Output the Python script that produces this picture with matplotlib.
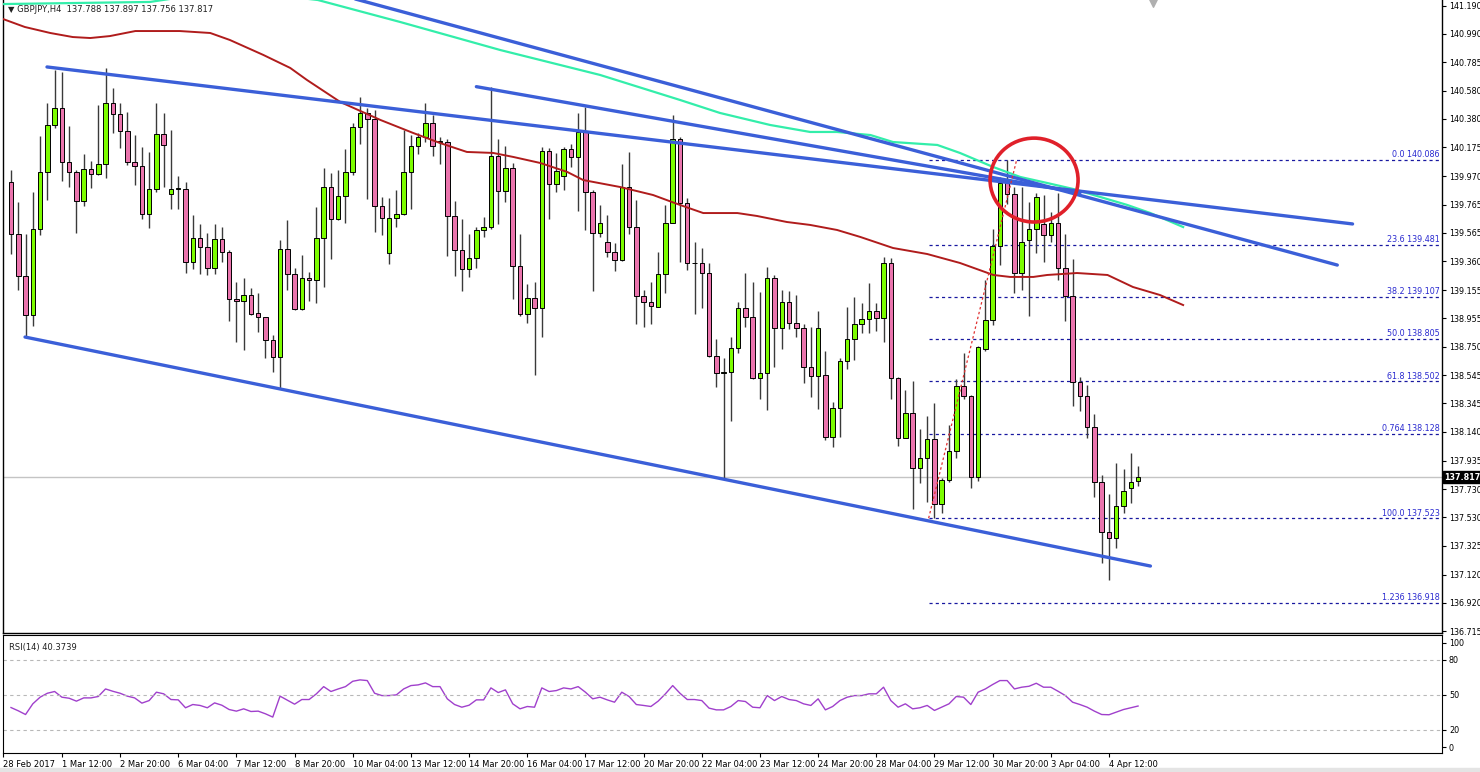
#!/usr/bin/env python3
"""GBPJPY H4 candlestick chart with channel lines, fib levels and RSI(14)."""
import matplotlib
matplotlib.use("Agg")
import matplotlib.pyplot as plt
from matplotlib.patches import Ellipse
from matplotlib.transforms import blended_transform_factory

# ---- candles (bar index = position on chart) ----
opens = [139.930, 139.554, 139.258, 138.977, 139.592, 139.998, 140.336, 140.460, 140.073, 140.002,
         139.792, 140.019, 139.983, 140.055, 140.495, 140.412, 140.293, 140.069, 140.040, 139.699,
         139.878, 140.274, 139.840, 139.878, 139.878, 139.358, 139.525, 139.461, 139.311, 139.520,
         139.425, 139.089, 139.077, 139.120, 138.990, 138.960, 138.798, 138.679, 139.447, 139.268,
         139.018, 139.239, 139.225, 139.525, 139.890, 139.661, 139.830, 140.002, 140.324, 140.420,
         140.377, 139.759, 139.418, 139.669, 139.699, 140.002, 140.186, 140.248, 140.348, 140.215,
         140.215, 139.685, 139.442, 139.304, 139.382, 139.585, 139.604, 140.114, 139.866, 140.026,
         139.329, 138.984, 139.096, 139.025, 140.152, 139.914, 139.971, 140.162, 140.105, 140.288,
         139.859, 139.566, 139.501, 139.430, 139.370, 139.890, 139.608, 139.115, 139.070, 139.036,
         139.270, 139.637, 140.234, 139.780, 139.347, 139.351, 139.279, 138.684, 138.564, 138.571,
         138.739, 139.025, 138.960, 138.524, 138.560, 139.239, 138.882, 139.072, 138.922, 138.882,
         138.603, 138.541, 138.548, 138.102, 138.309, 138.650, 138.803, 138.912, 138.946, 139.008,
         138.953, 139.351, 138.524, 138.099, 138.278, 137.880, 137.952, 138.088, 137.625, 137.797,
         138.006, 138.469, 138.397, 137.816, 138.731, 138.941, 139.470, 139.919, 139.842, 139.275,
         139.513, 139.590, 139.628, 139.549, 139.633, 139.311, 139.113, 138.500, 138.397, 138.174,
         137.784, 137.427, 137.380, 137.611, 137.737, 137.788]
highs = [140.014, 139.783, 139.554, 139.859, 140.257, 140.491, 140.729, 140.713, 140.329, 140.014,
         140.126, 140.078, 140.479, 140.741, 140.598, 140.491, 140.431, 140.264, 140.176, 140.141,
         140.495, 140.420, 140.300, 139.971, 139.926, 139.692, 139.626, 139.561, 139.626, 139.608,
         139.442, 139.215, 139.239, 139.172, 139.132, 138.965, 138.834, 139.513, 139.656, 139.311,
         139.406, 139.287, 139.751, 140.026, 139.995, 140.014, 140.162, 140.348, 140.538, 140.455,
         140.443, 139.819, 139.812, 139.871, 140.300, 140.264, 140.277, 140.491, 140.407, 140.252,
         140.234, 139.794, 139.661, 139.556, 139.608, 139.680, 140.610, 140.234, 140.186, 140.062,
         139.556, 139.199, 139.215, 140.181, 140.169, 140.133, 140.181, 140.200, 140.420, 140.467,
         139.871, 139.764, 139.692, 139.490, 140.055, 140.145, 139.799, 139.156, 139.215, 139.430,
         139.764, 140.407, 140.248, 139.812, 139.501, 139.454, 139.347, 138.803, 138.667, 138.817,
         139.072, 139.279, 139.215, 139.144, 139.318, 139.263, 139.156, 139.151, 139.120, 138.912,
         138.893, 139.008, 138.721, 138.357, 138.667, 139.032, 139.103, 139.065, 139.208, 139.061,
         139.390, 139.382, 138.536, 138.440, 138.507, 138.159, 138.254, 138.345, 137.809, 138.190,
         138.517, 138.707, 138.405, 138.755, 139.227, 139.590, 139.966, 140.086, 139.895, 139.895,
         139.787, 139.847, 139.835, 139.716, 139.847, 139.554, 139.375, 138.536, 138.476, 138.269,
         137.832, 137.697, 137.920, 137.873, 137.992, 137.897]
lows = [139.413, 139.156, 138.822, 138.900, 139.549, 139.799, 140.312, 139.935, 139.895, 139.561,
        139.759, 139.883, 139.978, 139.955, 140.277, 140.169, 140.050, 139.907, 139.661, 139.597,
        139.859, 139.895, 139.735, 139.735, 139.275, 139.304, 139.272, 139.263, 139.268, 139.358,
        138.936, 138.782, 138.726, 138.977, 138.853, 138.667, 138.571, 138.455, 139.156, 139.013,
        139.013, 139.079, 139.065, 139.175, 139.377, 139.655, 139.637, 139.978, 140.198, 139.804,
        139.573, 139.549, 139.342, 139.608, 139.692, 139.733, 140.129, 140.216, 140.114, 140.057,
        139.399, 139.256, 139.151, 139.251, 139.315, 139.537, 139.590, 139.628, 139.787, 139.089,
        138.970, 138.922, 138.548, 138.817, 139.661, 139.859, 139.871, 140.033, 139.723, 139.585,
        139.151, 139.537, 139.394, 139.294, 139.365, 139.556, 138.912, 138.889, 138.912, 139.036,
        139.132, 139.637, 139.358, 139.299, 138.984, 139.025, 138.679, 138.460, 137.809, 138.221,
        138.707, 138.893, 138.517, 138.374, 138.297, 138.607, 138.731, 138.875, 138.817, 138.493,
        138.388, 138.302, 138.083, 138.035, 138.102, 138.588, 138.655, 138.846, 138.846, 138.865,
        138.786, 138.374, 138.040, 138.095, 137.587, 137.773, 137.641, 137.523, 137.563, 137.784,
        137.952, 138.374, 137.737, 137.792, 138.721, 138.905, 139.335, 139.771, 139.136, 139.156,
        138.970, 139.418, 139.358, 139.501, 139.227, 138.936, 138.326, 138.292, 138.099, 137.677,
        137.205, 137.081, 137.308, 137.563, 137.630, 137.756]
closes = [139.554, 139.258, 138.977, 139.592, 139.998, 140.336, 140.460, 140.073, 140.002, 139.792,
          140.019, 139.983, 140.055, 140.495, 140.412, 140.293, 140.069, 140.040, 139.699, 139.878,
          140.274, 140.193, 139.878, 139.878, 139.358, 139.525, 139.461, 139.311, 139.520, 139.425,
          139.089, 139.077, 139.120, 138.984, 138.960, 138.798, 138.679, 139.447, 139.268, 139.018,
          139.239, 139.225, 139.525, 139.890, 139.661, 139.830, 140.002, 140.324, 140.420, 140.377,
          139.759, 139.669, 139.669, 139.699, 140.002, 140.186, 140.248, 140.348, 140.186, 140.215,
          139.685, 139.442, 139.304, 139.382, 139.585, 139.604, 140.114, 139.866, 140.026, 139.329,
          138.984, 139.096, 139.025, 140.152, 139.914, 140.009, 140.162, 140.105, 140.288, 139.859,
          139.566, 139.633, 139.430, 139.370, 139.890, 139.608, 139.115, 139.070, 139.041, 139.270,
          139.637, 140.234, 139.780, 139.347, 139.351, 139.279, 138.684, 138.564, 138.571, 138.739,
          139.025, 138.960, 138.524, 138.560, 139.239, 138.882, 139.072, 138.922, 138.882, 138.603,
          138.541, 138.882, 138.102, 138.309, 138.650, 138.803, 138.912, 138.946, 139.008, 138.953,
          139.351, 138.524, 138.099, 138.278, 137.880, 137.952, 138.088, 137.625, 137.797, 138.006,
          138.469, 138.397, 137.816, 138.746, 138.941, 139.470, 139.919, 139.842, 139.275, 139.501,
          139.590, 139.819, 139.549, 139.633, 139.311, 139.113, 138.500, 138.397, 138.174, 137.784,
          137.427, 137.380, 137.611, 137.718, 137.784, 137.817]

rsi = [39.1, 36.3, 33.1, 42.3, 48.0, 51.4, 52.9, 48.0, 47.1, 44.6,
       47.4, 47.4, 48.6, 55.1, 53.1, 51.4, 48.9, 47.4, 42.9, 45.1,
       52.3, 50.9, 46.0, 45.7, 38.9, 41.7, 40.9, 38.9, 43.1, 41.1,
       37.4, 36.0, 38.0, 35.7, 36.0, 33.7, 30.9, 48.9, 45.4, 42.0,
       46.0, 46.0, 50.9, 57.1, 52.9, 55.1, 57.1, 61.7, 62.9, 62.3,
       51.4, 49.4, 49.4, 50.0, 55.1, 58.0, 58.6, 60.3, 57.1, 57.1,
       46.6, 41.7, 39.4, 41.1, 45.7, 45.7, 56.0, 52.0, 54.3, 42.3,
       38.0, 40.0, 39.4, 56.0, 52.9, 53.7, 56.0, 55.1, 57.1, 52.3,
       46.6, 48.0, 45.7, 43.7, 52.3, 48.6, 41.7, 40.9, 40.0, 44.6,
       50.9, 58.0, 51.4, 46.0, 46.0, 45.1, 38.6, 37.1, 37.1, 40.0,
       45.1, 44.3, 39.4, 38.9, 49.4, 45.1, 48.6, 46.0, 45.1, 42.3,
       40.9, 46.6, 37.1, 40.0, 45.1, 48.0, 49.4, 49.4, 50.9, 50.9,
       56.6, 45.1, 39.4, 42.3, 38.0, 38.9, 40.9, 36.6, 39.4, 42.3,
       48.6, 48.0, 41.7, 52.3, 55.1, 58.9, 62.3, 62.3, 55.1, 56.6,
       57.4, 60.0, 56.6, 56.6, 53.1, 49.4, 43.7, 41.7, 39.4, 36.0,
       33.1, 32.9, 35.1, 37.4, 38.9, 40.4]

# ---- moving averages (bar index, price) ----
ma_red_x = [-1.1, 1.9, 5.4, 8.5, 10.9, 13.6, 17.1, 23.2, 27.4, 30.1, 34.7, 38.4, 40.7, 45.3,
            50.8, 55.3, 59.0, 62.7, 66.3, 69.1, 72.8, 76.5, 78.7, 83.8, 88.3, 92.0, 95.2, 99.9,
            102.6, 106.7, 109.9, 113.6, 116.8, 121.3, 126.0, 130.5, 135.1, 137.4, 140.6, 142.5,
            146.6, 150.8, 154.3, 158.0, 161.2]
ma_red_y = [141.094, 141.037, 140.994, 140.965, 140.958, 140.972, 141.008, 141.008, 140.994,
            140.944, 140.837, 140.744, 140.658, 140.500, 140.372, 140.279, 140.207, 140.143,
            140.136, 140.107, 140.064, 140.000, 139.942, 139.892, 139.835, 139.764, 139.706,
            139.706, 139.685, 139.642, 139.621, 139.585, 139.535, 139.456, 139.413, 139.349,
            139.263, 139.249, 139.249, 139.263, 139.277, 139.263, 139.177, 139.120, 139.048]
ma_green_x = [-1.1, 9.5, 19.1, 30.1, 42.2, 53.5, 67.3, 81.0, 92.0, 97.5, 104.4, 109.9, 113.6,
              118.2, 121.3, 127.4, 130.5, 135.1, 138.8, 142.5, 146.1, 149.8, 153.5, 156.7, 161.2]
ma_green_y = [141.201, 141.209, 141.216, 141.302, 141.230, 141.073, 140.872, 140.694, 140.515,
              140.422, 140.336, 140.286, 140.286, 140.264, 140.214, 140.193, 140.136, 140.035,
              139.964, 139.921, 139.878, 139.821, 139.764, 139.706, 139.606]

# ---- drawn objects ----
trend_lines = [  # (x0, y0, x1, y1)
    (4.95, 140.751, 184.5, 139.628),
    (64.0, 140.610, 147.0, 139.850),
    (45.3, 141.266, 182.4, 139.334),
    (1.93, 138.819, 156.7, 137.181),
]
fib_start = 126.2
fib_levels = [140.086, 139.481, 139.107, 138.805, 138.502, 138.128, 137.523, 136.918]
fib_names = ["0.0", "23.6", "38.2", "50.0", "61.8", "0.764", "100.0", "1.236"]

price_ticks = [141.190, 140.990, 140.785, 140.580, 140.380, 140.175, 139.970, 139.765,
               139.565, 139.360, 139.155, 138.955, 138.750, 138.545, 138.345, 138.140,
               137.935, 137.730, 137.530, 137.325, 137.120, 136.920, 136.715]
time_ticks = [-1.1, 7, 15, 23, 31, 39, 47, 55, 63, 71, 79, 87, 95, 103, 111, 119, 127, 135, 143, 151]
time_labels = ["28 Feb 2017", "1 Mar 12:00", "2 Mar 20:00", "6 Mar 04:00", "7 Mar 12:00",
               "8 Mar 20:00", "10 Mar 04:00", "13 Mar 12:00", "14 Mar 20:00", "16 Mar 04:00",
               "17 Mar 12:00", "20 Mar 20:00", "22 Mar 04:00", "23 Mar 12:00", "24 Mar 20:00",
               "28 Mar 04:00", "29 Mar 12:00", "30 Mar 20:00", "3 Apr 04:00", "4 Apr 12:00"]

last_price = closes[-1]
XMIN, XMAX = -1.1, 196.8
YMIN, YMAX = 136.702, 141.230
FS = 5.8

fig = plt.figure(figsize=(14.8, 7.72), dpi=100)
W, H = 1480, 772
ax = fig.add_axes([3 / W, (H - 633) / H, 1439 / W, 633 / H])
ax_rsi = fig.add_axes([3 / W, (H - 753) / H, 1439 / W, 118 / H], sharex=ax)

# candles
for i in range(len(closes)):
    o, h, l, c = opens[i], highs[i], lows[i], closes[i]
    ax.vlines(i, l, h, color="#3a3a3a", lw=1.0, zorder=2)
    col = "#7cfc00" if c >= o else "#ea74ad"
    ax.bar(i, max(abs(c - o), 0.004), bottom=min(o, c), width=0.62, color=col,
           edgecolor="black", linewidth=0.7, zorder=3)

# moving averages
ax.plot(ma_green_x, ma_green_y, color="#33eeaa", lw=1.6, zorder=4)
ax.plot(ma_red_x, ma_red_y, color="#b01c1c", lw=1.4, zorder=4)

# trend lines
for x0, y0, x1, y1 in trend_lines:
    ax.plot([x0, x1], [y0, y1], color="#3b5fd8", lw=2.4, solid_capstyle="round", zorder=5)

# fib retracement
ax.plot([fib_start, 138.3], [fib_levels[6], fib_levels[0]], color="#e03030", lw=0.9,
        ls=(0, (2, 2)), zorder=5)
for lvl, name in zip(fib_levels, fib_names):
    ax.plot([fib_start, XMAX], [lvl, lvl], color="#1818a0", lw=0.9, ls=(0, (2.5, 2.5)), zorder=1)
    ax.text(XMAX - 0.3, lvl + 0.004, f"{name} {lvl:.3f}", color="#2a2ad0", fontsize=FS,
            ha="right", va="bottom", zorder=6)

# current price line
ax.axhline(last_price, color="#c4c4c4", lw=1.0, zorder=0)

# red circle
ax.add_patch(Ellipse((140.7, 139.942), 12.1, 0.60, fill=False, edgecolor="#e0202a",
                     lw=2.6, zorder=7))

ax.set_xlim(XMIN, XMAX)
ax.set_ylim(YMIN, YMAX)
ax.yaxis.tick_right()
ax.set_yticks(price_ticks)
ax.set_yticklabels([f"{v:.3f}" for v in price_ticks])
ax.tick_params(axis="y", direction="out", length=3, width=0.8, labelsize=FS, pad=2)
ax.tick_params(axis="x", bottom=False, labelbottom=False)
ax.spines["top"].set_visible(False)
for s in ("left", "right", "bottom"):
    ax.spines[s].set_linewidth(1.0)

tr = blended_transform_factory(ax.transAxes, ax.transData)
ax.text(1.0015, last_price, f"{last_price:.3f}", transform=tr, color="white", fontsize=FS,
        ha="left", va="center", fontweight="bold", zorder=8,
        bbox=dict(boxstyle="square,pad=0.15", fc="black", ec="black"))
ax.scatter([157], [YMAX - 0.02], marker="v", s=30, color="#b0b0b0", clip_on=False, zorder=8)

fig.text(8 / W, 1 - 9 / H, "\u25bc GBPJPY,H4  137.788 137.897 137.756 137.817",
         fontsize=6, va="center", ha="left", color="#202020")

# RSI panel
ax_rsi.plot(range(len(rsi)), rsi, color="#a040cc", lw=1.0)
for lvl in (80, 50, 20):
    ax_rsi.axhline(lvl, color="#b8b8b8", lw=0.8, ls=(0, (3, 3)))
ax_rsi.set_ylim(0, 101.5)
ax_rsi.yaxis.tick_right()
ax_rsi.set_yticks([95, 80, 50, 20, 5])
ax_rsi.set_yticklabels(["100", "80", "50", "20", "0"])
ax_rsi.tick_params(axis="y", direction="out", length=3, width=0.8, labelsize=FS, pad=2)
ax_rsi.set_xticks(time_ticks)
ax_rsi.set_xticklabels(time_labels)
ax_rsi.tick_params(axis="x", direction="out", length=3, width=0.8, labelsize=6, pad=2)
for lab in ax_rsi.get_xticklabels():
    lab.set_ha("left")
ax_rsi.text(0.004, 0.93, "RSI(14) 40.3739", transform=ax_rsi.transAxes, fontsize=6,
            ha="left", va="top", color="#202020")

fig.patches.append(plt.Rectangle((0, 0), 1, 4 / H, transform=fig.transFigure,
                                 color="#e4e4e4", zorder=0))

fig.savefig("out.png", dpi=100, facecolor="white")
